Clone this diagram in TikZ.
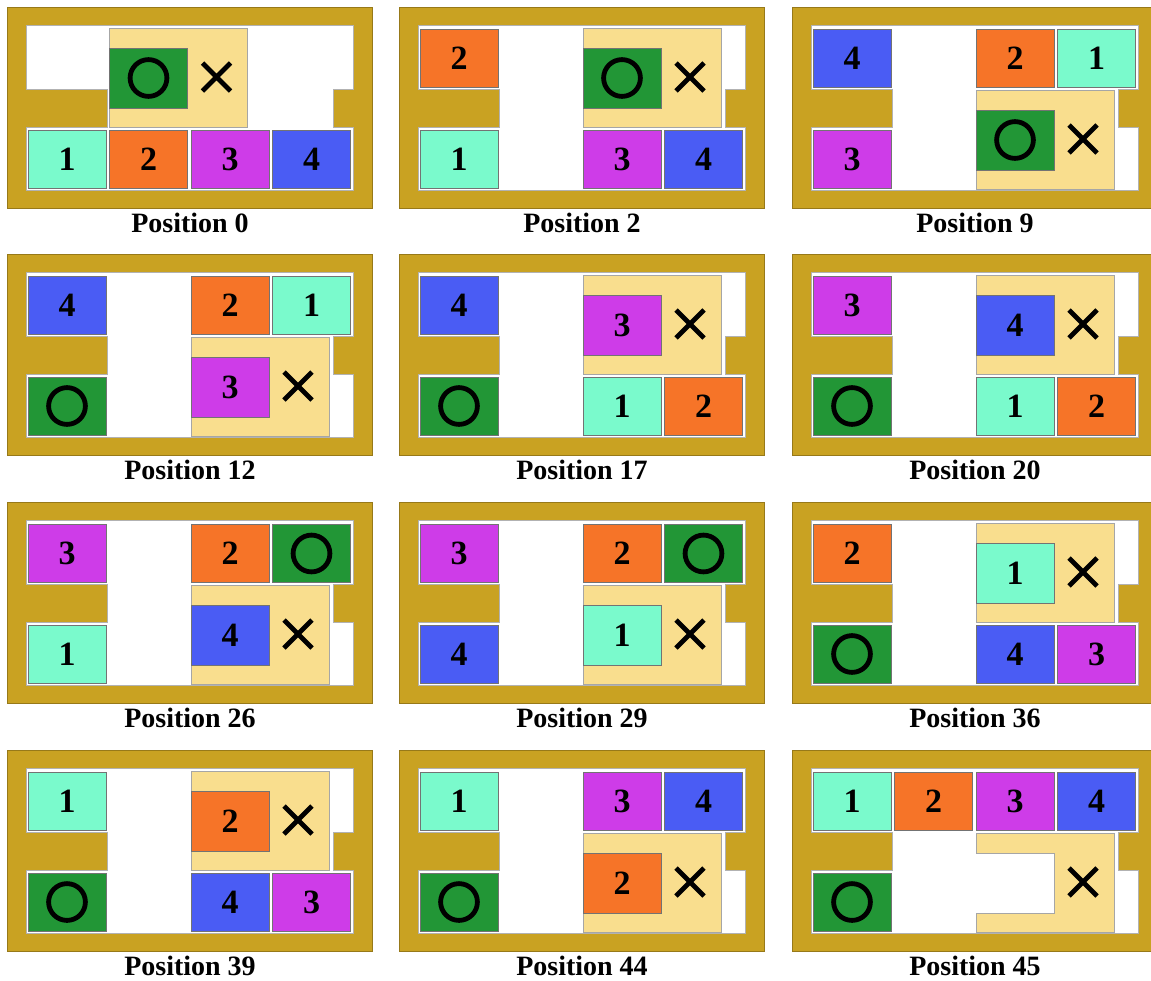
\documentclass[tikz,border=0pt]{standalone}
\usepackage{fontspec}
\setmainfont{Liberation Serif}
\usepackage{tikz}
\definecolor{frame-gold}{RGB}{201,162,34}
\definecolor{carrier-yellow}{RGB}{249,222,142}
\definecolor{block-one}{RGB}{122,250,204}
\definecolor{block-two}{RGB}{246,116,40}
\definecolor{block-three}{RGB}{206,60,232}
\definecolor{block-four}{RGB}{74,92,244}
\definecolor{block-goal}{RGB}{34,150,54}
\tikzset{
  puzzle-frame/.style={fill=frame-gold, draw=frame-gold!75!black, line width=0.4pt},
  puzzle-floor/.style={fill=white, draw=black!30, line width=0.5pt},
  puzzle-carrier/.style={fill=carrier-yellow, draw=black!35, line width=0.5pt},
  puzzle-block/.style={draw=black!55, line width=0.5pt, inner sep=0pt,
    minimum width=39pt, minimum height=29pt, font=\bfseries\fontsize{17}{17}\selectfont},
  puzzle-caption/.style={font=\bfseries\fontsize{14}{14}\selectfont, inner sep=0pt},
  puzzle-mark/.style={draw=black, line width=2.4pt}
}
% one board: frame, floor with the two side walls, caption
\newcommand{\puzzleboard}[1]{%
  \def\pid{#1}%
  \draw[puzzle-frame] (0,0) rectangle (365,201);
  \draw[puzzle-floor] (19,18) -- (346,18) -- (346,82) -- (326,82) -- (326,120) -- (346,120)
    -- (346,183) -- (19,183) -- (19,120) -- (100,120) -- (100,82) -- (19,82) -- cycle;
  \node[puzzle-caption] (p\pid-cap) at (183,216) {Position \pid};
}
% block #4 of colour #3 in column #1, row #2
\newcommand{\puzzleblock}[4]{%
  \node[puzzle-block, fill=#3] (p\pid-#4) at ({60+81.5*#1},{51.5+100.5*#2}) {#4};
}
\newcommand{\puzzlegoal}[2]{%
  \node[puzzle-block, fill=block-goal] (p\pid-goal) at ({60+81.5*#1},{51.5+100.5*#2}) {};
  \draw[puzzle-mark] (p\pid-goal.center) circle [radius=9.2pt];
}
% the yellow C-shaped carrier with its cross
\newcommand{\puzzlecarrier}[2]{%
  \pgfmathsetmacro\carx{21+81.5*#1}%
  \pgfmathsetmacro\cary{21+62*#2}%
  \draw[puzzle-carrier] (\carx,\cary) -- ++(138,0) -- ++(0,99) -- ++(-138,0) -- ++(0,-19)
    -- ++(78,0) -- ++(0,-60) -- ++(-78,0) -- cycle;
  \coordinate (p\pid-slot) at (\carx+39,\cary+50);
  \coordinate (p\pid-cross) at (\carx+107,\cary+49);
  \draw[puzzle-mark] (p\pid-cross) ++(-14,-14) -- ++(28,28) ++(0,-28) -- ++(-28,28);
}
\newcommand{\slotblock}[2]{%
  \node[puzzle-block, fill=#1, minimum height=30pt] (p\pid-#2) at (p\pid-slot) {#2};
}
\newcommand{\slotgoal}{%
  \node[puzzle-block, fill=block-goal, minimum height=30pt] (p\pid-goal) at (p\pid-slot) {};
  \draw[puzzle-mark] (p\pid-goal.center) circle [radius=9.2pt];
}

\begin{document}
\begin{tikzpicture}[x=0.5pt, y=-0.5pt]
  \useasboundingbox (0,0) rectangle (1151,980);
  % first row
  \begin{scope}[shift={(7,7)}]
    \puzzleboard{0}
    \puzzlecarrier{1}{0} \slotgoal
    \puzzleblock{0}{1}{block-one}{1} \puzzleblock{1}{1}{block-two}{2}
    \puzzleblock{2}{1}{block-three}{3} \puzzleblock{3}{1}{block-four}{4}
  \end{scope}
  \begin{scope}[shift={(399,7)}]
    \puzzleboard{2}
    \puzzleblock{0}{0}{block-two}{2} \puzzleblock{0}{1}{block-one}{1}
    \puzzlecarrier{2}{0} \slotgoal
    \puzzleblock{2}{1}{block-three}{3} \puzzleblock{3}{1}{block-four}{4}
  \end{scope}
  \begin{scope}[shift={(792,7)}]
    \puzzleboard{9}
    \puzzleblock{0}{0}{block-four}{4} \puzzleblock{0}{1}{block-three}{3}
    \puzzleblock{2}{0}{block-two}{2} \puzzleblock{3}{0}{block-one}{1}
    \puzzlecarrier{2}{1} \slotgoal
  \end{scope}
  % second row
  \begin{scope}[shift={(7,254)}]
    \puzzleboard{12}
    \puzzleblock{0}{0}{block-four}{4} \puzzlegoal{0}{1}
    \puzzleblock{2}{0}{block-two}{2} \puzzleblock{3}{0}{block-one}{1}
    \puzzlecarrier{2}{1} \slotblock{block-three}{3}
  \end{scope}
  \begin{scope}[shift={(399,254)}]
    \puzzleboard{17}
    \puzzleblock{0}{0}{block-four}{4} \puzzlegoal{0}{1}
    \puzzlecarrier{2}{0} \slotblock{block-three}{3}
    \puzzleblock{2}{1}{block-one}{1} \puzzleblock{3}{1}{block-two}{2}
  \end{scope}
  \begin{scope}[shift={(792,254)}]
    \puzzleboard{20}
    \puzzleblock{0}{0}{block-three}{3} \puzzlegoal{0}{1}
    \puzzlecarrier{2}{0} \slotblock{block-four}{4}
    \puzzleblock{2}{1}{block-one}{1} \puzzleblock{3}{1}{block-two}{2}
  \end{scope}
  % third row
  \begin{scope}[shift={(7,502)}]
    \puzzleboard{26}
    \puzzleblock{0}{0}{block-three}{3} \puzzleblock{0}{1}{block-one}{1}
    \puzzleblock{2}{0}{block-two}{2} \puzzlegoal{3}{0}
    \puzzlecarrier{2}{1} \slotblock{block-four}{4}
  \end{scope}
  \begin{scope}[shift={(399,502)}]
    \puzzleboard{29}
    \puzzleblock{0}{0}{block-three}{3} \puzzleblock{0}{1}{block-four}{4}
    \puzzleblock{2}{0}{block-two}{2} \puzzlegoal{3}{0}
    \puzzlecarrier{2}{1} \slotblock{block-one}{1}
  \end{scope}
  \begin{scope}[shift={(792,502)}]
    \puzzleboard{36}
    \puzzleblock{0}{0}{block-two}{2} \puzzlegoal{0}{1}
    \puzzlecarrier{2}{0} \slotblock{block-one}{1}
    \puzzleblock{2}{1}{block-four}{4} \puzzleblock{3}{1}{block-three}{3}
  \end{scope}
  % fourth row
  \begin{scope}[shift={(7,750)}]
    \puzzleboard{39}
    \puzzleblock{0}{0}{block-one}{1} \puzzlegoal{0}{1}
    \puzzlecarrier{2}{0} \slotblock{block-two}{2}
    \puzzleblock{2}{1}{block-four}{4} \puzzleblock{3}{1}{block-three}{3}
  \end{scope}
  \begin{scope}[shift={(399,750)}]
    \puzzleboard{44}
    \puzzleblock{0}{0}{block-one}{1} \puzzlegoal{0}{1}
    \puzzleblock{2}{0}{block-three}{3} \puzzleblock{3}{0}{block-four}{4}
    \puzzlecarrier{2}{1} \slotblock{block-two}{2}
  \end{scope}
  \begin{scope}[shift={(792,750)}]
    \puzzleboard{45}
    \puzzleblock{0}{0}{block-one}{1} \puzzleblock{1}{0}{block-two}{2}
    \puzzleblock{2}{0}{block-three}{3} \puzzleblock{3}{0}{block-four}{4}
    \puzzlegoal{0}{1}
    \puzzlecarrier{2}{1}
  \end{scope}
\end{tikzpicture}
\end{document}
